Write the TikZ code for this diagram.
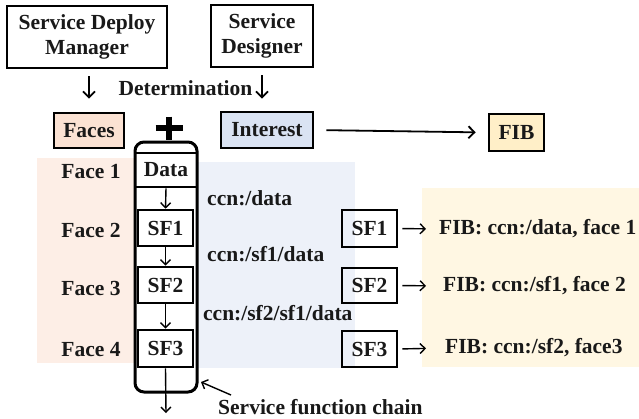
\documentclass[tikz,border=0pt]{standalone}
\usepackage{fontspec}
\setmainfont{Liberation Serif}
\usetikzlibrary{arrows.meta,calc}

\definecolor{facefill}{HTML}{FBE2D3}
\definecolor{facebg}{HTML}{FDEEE6}
\definecolor{intfill}{HTML}{DAE3F3}
\definecolor{intbg}{HTML}{EDF1F9}
\definecolor{fibfill}{HTML}{FFEFC8}
\definecolor{fibbg}{HTML}{FFF7E3}

\tikzset{
  lbl/.style={font=\fontsize{21.5}{25}\selectfont\bfseries, inner sep=0pt, text=black!90},
  box/.style={lbl, draw, line width=2.6pt, align=center},
  arr/.style={line width=1.8pt, -{Straight Barb[length=6pt,width=12pt,line width=1.8pt]}},
  thinarr/.style={line width=1.4pt, -{Straight Barb[length=5pt,width=10pt,line width=1.4pt]}},
}

\begin{document}
\begin{tikzpicture}[x=1pt,y=-1pt]
\useasboundingbox (0,0) rectangle (639,418);

% shaded bands behind faces, interests and FIB entries
\fill[facebg] (37,158) rectangle (135,363);
\fill[intbg] (197,162) rectangle (355,368);
\fill[fibbg] (422,188) rectangle (639,367);

% top row: managers
\node[box, minimum width=160, minimum height=62] (sdm) at (87,37) {Service Deploy\\Manager};
\node[box, minimum width=102, minimum height=62] (sd) at (262,36) {Service\\Designer};
\node[lbl] (det) at (185.5,88) {Determination};

% second row
\node[box, fill=facefill, minimum width=70, minimum height=35] (faces) at (89,130.5) {Faces};
\node[box, fill=intfill, minimum width=92, minimum height=36] (interest) at (267,130) {Interest};
\node[box, fill=fibfill, minimum width=55, minimum height=37] (fib) at (516.5,132.5) {FIB};

\draw[arr, shorten <=7pt, shorten >=13pt] (sdm.south -| faces) -- (faces.north);
\draw[arr, shorten <=7pt, shorten >=12pt] (sd.south) -- (sd.south |- interest.north);
\draw[arr, shorten <=12pt, shorten >=12pt] (interest.east) -- (fib.west);

% plus sign
\draw[line width=6.5pt] (155.5,128) -- (182.5,128);
\draw[line width=6.5pt] (169,116.5) -- (169,139.5);

% service function chain
\node[draw, line width=3pt, rounded corners=9pt, minimum width=62, minimum height=250] (chain) at (166,267) {};
\node[box, minimum width=62, minimum height=34] (data) at (166,170) {Data};
\node[box, minimum width=55, minimum height=36] (sf1) at (165.5,228) {SF1};
\node[box, minimum width=55, minimum height=36] (sf2) at (165.5,285) {SF2};
\node[box, minimum width=55, minimum height=37] (sf3) at (165.5,348.5) {SF3};
\coordinate (out) at (166,413);

\draw[thinarr] (data.south) -- (sf1.north);
\draw[thinarr] (sf1.south) -- (sf2.north);
\draw[thinarr] (sf2.south) -- (sf3.north);
\draw[thinarr] (sf3.south) -- (out);

% face labels
\node[lbl] (f1) at (91,172) {Face 1};
\node[lbl] (f2) at (91,230) {Face 2};
\node[lbl] (f3) at (91,288) {Face 3};
\node[lbl] (f4) at (91,350) {Face 4};

% interest names
\node[lbl, anchor=west] (n1) at (207,198) {ccn:/data};
\node[lbl, anchor=west] (n2) at (207,254) {ccn:/sf1/data};
\node[lbl, anchor=west] (n3) at (203,313) {ccn:/sf2/sf1/data};

% chain caption
\node[lbl, anchor=west] (sfc) at (218,407) {Service function chain};
\coordinate (sfctail) at (231,395);
\coordinate (sfctip) at (201,382);
\draw[line width=1.4pt, -{Straight Barb[length=5pt,width=10pt,line width=1.4pt]}] (sfctail) -- (sfctip);

% FIB entries per service function
\node[box, minimum width=55, minimum height=37] (r1) at (369.5,228.5) {SF1};
\node[box, minimum width=55, minimum height=35] (r2) at (369.5,285.5) {SF2};
\node[box, minimum width=55, minimum height=36] (r3) at (369.5,349) {SF3};
\node[lbl, anchor=west] (e1) at (439,229) {FIB: ccn:/data, face 1};
\node[lbl, anchor=west] (e2) at (443,286) {FIB: ccn:/sf1, face 2};
\node[lbl, anchor=west] (e3) at (445,348) {FIB: ccn:/sf2, face3};

\draw[thinarr, shorten <=4pt, shorten >=13pt] (r1.east) -- (e1.west);
\draw[thinarr, shorten <=4pt, shorten >=17pt] (r2.east) -- (e2.west);
\draw[thinarr, shorten <=4pt, shorten >=19pt] (r3.east) -- (e3.west);
\end{tikzpicture}
\end{document}
